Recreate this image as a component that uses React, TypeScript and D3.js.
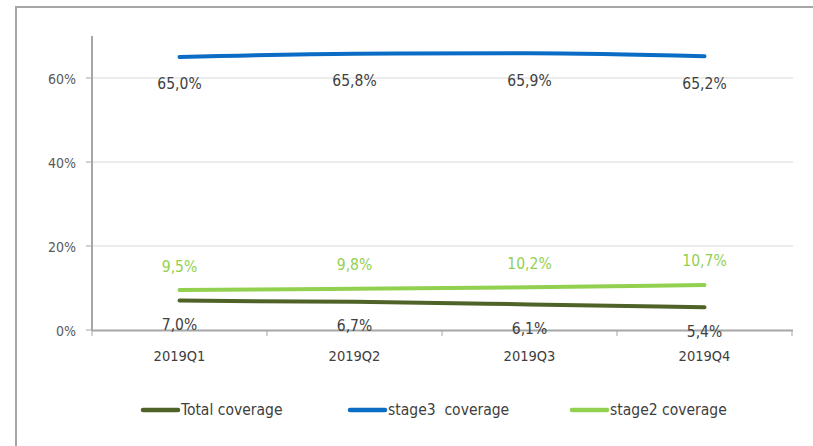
import React from "react";
import * as d3 from "d3";

const categories = ["2019Q1", "2019Q2", "2019Q3", "2019Q4"];
const totalCoverage = [7.0, 6.7, 6.1, 5.4];
const stage3Coverage = [65.0, 65.8, 65.9, 65.2];
const stage2Coverage = [9.5, 9.8, 10.2, 10.7];
const yTicks = [0, 20, 40, 60];
const seriesNames = ["Total coverage", "stage3  coverage", "stage2 coverage"];

const W = 813;
const H = 446;
const FONT = "'Liberation Sans Narrow', 'DejaVu Sans Condensed', 'Liberation Sans', Arial, sans-serif";

export default function App() {
  const x = d3.scaleBand<string>().domain(categories).range([92, 792]);
  const y = d3.scaleLinear().domain([0, 70]).range([330, 36]);
  const cx = (c: string) => (x(c) as number) + x.bandwidth() / 2;
  const fmt = (v: number) => d3.format(".1f")(v).replace(".", ",") + "%";

  const series = [
    { name: seriesNames[0], values: totalCoverage, color: "#4F6228", labelColor: "#404040", dy: 24 },
    { name: seriesNames[1], values: stage3Coverage, color: "#0A6CC4", labelColor: "#404040", dy: 27 },
    { name: seriesNames[2], values: stage2Coverage, color: "#92D050", labelColor: "#92D050", dy: -24 },
  ];

  const line = d3
    .line<number>()
    .x((_, i) => cx(categories[i]))
    .y((v) => y(v))
    .curve(d3.curveMonotoneX);

  const boundaries = [...categories.map((c) => x(c) as number), 792];
  const legendX = [143, 350, 572];

  return (
    <svg width={W} height={H} style={{ position: "absolute", left: 0, top: 0, background: "#fff" }} fontFamily={FONT}>
      <rect x={16} y={7} width={W + 20} height={H + 20} fill="#fff" stroke="#a6a6a6" strokeWidth={2} />
      {yTicks.filter((t) => t > 0).map((t) => (
        <line key={"g" + t} x1={92} x2={793} y1={y(t)} y2={y(t)} stroke="#d9d9d9" strokeWidth={1} />
      ))}
      <line x1={92} x2={92} y1={36} y2={331} stroke="#a6a6a6" strokeWidth={2} />
      <line x1={92} x2={793} y1={330.5} y2={330.5} stroke="#a6a6a6" strokeWidth={2} />
      {yTicks.map((t) => (
        <g key={"t" + t}>
          <line x1={86} x2={92} y1={y(t)} y2={y(t)} stroke="#a6a6a6" strokeWidth={1} />
          <text x={76} y={y(t) + 1} dy="0.35em" textAnchor="end" fontSize={14} fill="#595959">
            {t + "%"}
          </text>
        </g>
      ))}
      {boundaries.map((b, i) => (
        <line key={"b" + i} x1={b} x2={b} y1={330} y2={336} stroke="#a6a6a6" strokeWidth={1} />
      ))}
      {categories.map((c) => (
        <text key={c} x={cx(c)} y={356} dy="0.35em" textAnchor="middle" fontSize={14.5} fill="#404040">
          {c}
        </text>
      ))}
      {series.map((s) => (
        <path key={s.name} d={line(s.values) || ""} fill="none" stroke={s.color} strokeWidth={4} strokeLinecap="round" />
      ))}
      {series.map((s) =>
        s.values.map((v, i) => (
          <text
            key={s.name + i}
            x={cx(categories[i])}
            y={y(v) + s.dy}
            dy="0.35em"
            textAnchor="middle"
            fontSize={15.5}
            fill={s.labelColor}
          >
            {fmt(v)}
          </text>
        ))
      )}
      {series.map((s, i) => (
        <g key={"l" + i}>
          <line x1={legendX[i]} x2={legendX[i] + 35} y1={410} y2={410} stroke={s.color} strokeWidth={4.5} strokeLinecap="round" />
          <text x={legendX[i] + 38} y={410} dy="0.35em" fontSize={15.5} fill="#404040" style={{ whiteSpace: "pre" }}>
            {s.name}
          </text>
        </g>
      ))}
    </svg>
  );
}
